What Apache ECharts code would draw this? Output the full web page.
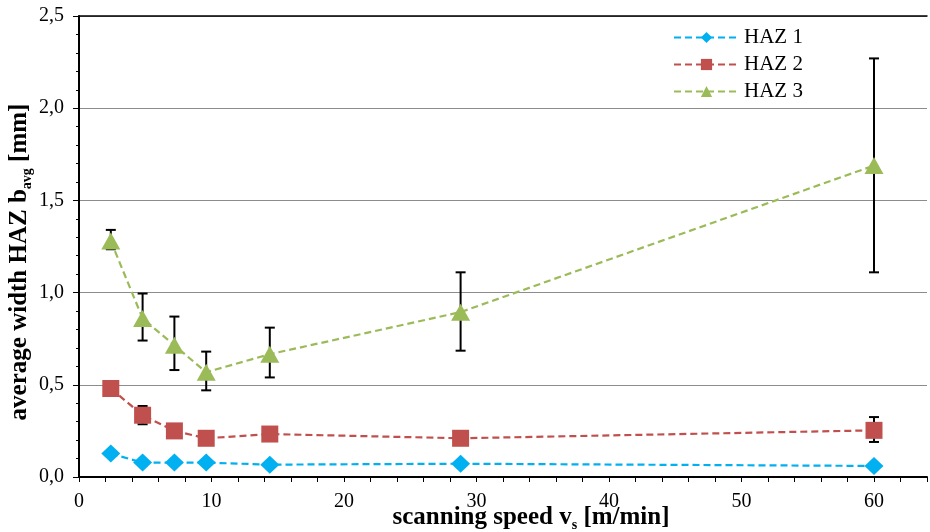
<!DOCTYPE html>
<html>
<head>
<meta charset="utf-8">
<script src="https://cdn.jsdelivr.net/npm/echarts@6/dist/echarts.min.js"></script>
<style>
  html, body { margin: 0; padding: 0; background: #fff; }
  #main { width: 930px; height: 532px; }
</style>
</head>
<body>
<div id="main"></div>
<script>
// scanning speed [m/min]
const speeds = [2.4, 4.8, 7.2, 9.6, 14.4, 28.8, 60]
// average width b_avg [mm]
const haz1 = [0.127, 0.078, 0.078, 0.078, 0.067, 0.072, 0.06]
const haz2 = [0.48, 0.335, 0.25, 0.21, 0.233, 0.21, 0.253]
const haz3 = [1.28, 0.86, 0.714, 0.568, 0.666, 0.894, 1.689]
// error bars (min / max), null = hidden behind the marker
const haz2Low = [null, 0.286, null, null, null, null, 0.19]
const haz2High = [null, 0.385, null, null, null, null, 0.325]
const haz3Low = [1.235, 0.74, 0.58, 0.47, 0.54, 0.685, 1.11]
const haz3High = [1.34, 0.995, 0.87, 0.68, 0.81, 1.11, 2.27]

const font = 'Liberation Serif'

function pairs(ys) {
  return speeds.map((x, i) => [x, ys[i]])
}

function errData(low, high) {
  const out = []
  speeds.forEach((x, i) => {
    if (low[i] != null) out.push([x, low[i], high[i]])
  })
  return out
}

// 误差线
function renderErr(params, api) {
  const x = api.value(0)
  const lo = api.coord([x, api.value(1)])
  const hi = api.coord([x, api.value(2)])
  const cap = 5
  const style = { stroke: '#000', lineWidth: 2 }
  return {
    type: 'group',
    children: [
      { type: 'line', shape: { x1: lo[0], y1: lo[1], x2: hi[0], y2: hi[1] }, style: style },
      { type: 'line', shape: { x1: lo[0] - cap, y1: lo[1], x2: lo[0] + cap, y2: lo[1] }, style: style },
      { type: 'line', shape: { x1: hi[0] - cap, y1: hi[1], x2: hi[0] + cap, y2: hi[1] }, style: style }
    ]
  }
}

const myChart = echarts.init(document.getElementById('main'), null, { renderer: 'canvas' })

const nameRich = {
  n: { fontFamily: font, fontSize: 25, fontWeight: 'bold', color: '#000', lineHeight: 28 },
  s: { fontFamily: font, fontSize: 14, fontWeight: 'bold', color: '#000', lineHeight: 28, verticalAlign: 'bottom', padding: [9, 0, 0, 0] }
}

const option = {
  animation: false,
  backgroundColor: '#fff',
  textStyle: { fontFamily: font, color: '#000' },
  grid: { left: 79, right: 3, top: 16, bottom: 55, containLabel: false, outerBoundsMode: 'none' },
  legend: {
    data: ['HAZ 1', 'HAZ 2', 'HAZ 3'],
    orient: 'vertical',
    left: 668,
    top: 22,
    itemWidth: 65,
    itemHeight: 14,
    itemGap: 6,
    textStyle: { fontFamily: font, fontSize: 21, color: '#000' }
  },
  xAxis: [
    {
      type: 'value',
      min: 0,
      max: 64,
      interval: 2,
      name: '{n|scanning speed v}{s|s}{n| [m/min]}',
      nameLocation: 'middle',
      nameGap: 27,
      nameMoveOverlap: false,
      nameTextStyle: {
        padding: [0, 0, 0, 56],
        rich: nameRich
      },
      axisLine: { lineStyle: { color: '#000', width: 2 } },
      axisTick: { length: 5, lineStyle: { color: '#000', width: 1 } },
      axisLabel: {
        margin: 15,
        fontFamily: font,
        fontSize: 20,
        color: '#000',
        formatter: v => (v % 10 === 0 && v <= 60 ? String(v) : '')
      },
      splitLine: { show: false }
    },
    {
      type: 'value',
      position: 'top',
      min: 0,
      max: 64,
      axisLine: { show: true, onZero: false, lineStyle: { color: '#000', width: 1.5 } },
      axisTick: { show: false },
      axisLabel: { show: false },
      splitLine: { show: false }
    }
  ],
  yAxis: {
    type: 'value',
    min: 0,
    max: 2.5,
    interval: 0.5,
    name: '{n|average width HAZ b}{s|avg}{n| [mm]}',
    nameLocation: 'middle',
    nameGap: 45,
    nameMoveOverlap: false,
    nameTextStyle: {
      padding: [0, 31, 0, 0],
      rich: nameRich
    },
    axisLine: { show: true, lineStyle: { color: '#000', width: 2 } },
    axisTick: { show: true, length: 6, lineStyle: { color: '#000', width: 1 } },
    minorTick: { show: true, splitNumber: 5, length: 3, lineStyle: { color: '#000', width: 1 } },
    axisLabel: {
      margin: 15,
      fontFamily: font,
      fontSize: 20,
      color: '#000',
      formatter: v => v.toFixed(1).replace('.', ',')
    },
    splitLine: { show: true, lineStyle: { color: '#8c8c8c', width: 1 } }
  },
  series: [
    {
      name: 'err2',
      type: 'custom',
      renderItem: renderErr,
      encode: { x: 0, y: [1, 2] },
      data: errData(haz2Low, haz2High),
      z: 1,
      silent: true
    },
    {
      name: 'err3',
      type: 'custom',
      renderItem: renderErr,
      encode: { x: 0, y: [1, 2] },
      data: errData(haz3Low, haz3High),
      z: 1,
      silent: true
    },
    {
      name: 'HAZ 1',
      type: 'line',
      data: pairs(haz1),
      symbol: 'diamond',
      symbolSize: [19, 18],
      color: '#00B0F0',
      lineStyle: { color: '#00B0F0', width: 2.2, type: [7, 4] },
      itemStyle: { color: '#00B0F0' },
      z: 3
    },
    {
      name: 'HAZ 2',
      type: 'line',
      data: pairs(haz2),
      symbol: 'rect',
      symbolSize: 17,
      color: '#C0504D',
      lineStyle: { color: '#C0504D', width: 2.2, type: [7, 4] },
      itemStyle: { color: '#C0504D' },
      z: 3
    },
    {
      name: 'HAZ 3',
      type: 'line',
      data: pairs(haz3),
      symbol: 'triangle',
      symbolSize: [19, 17],
      color: '#9BBB59',
      lineStyle: { color: '#9BBB59', width: 2.2, type: [7, 4] },
      itemStyle: { color: '#9BBB59' },
      z: 3
    }
  ]
}

option && myChart.setOption(option)
</script>
</body>
</html>
